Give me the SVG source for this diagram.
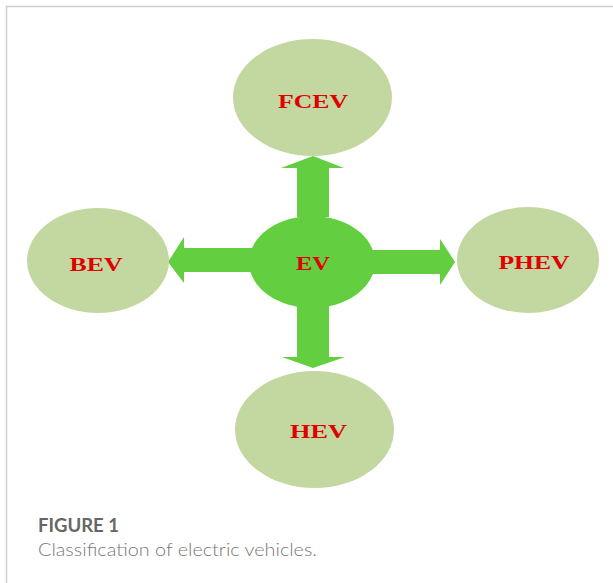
<svg xmlns="http://www.w3.org/2000/svg" width="613" height="583" viewBox="0 0 613 583">
<style>
.sub{fill:#c2d8a0}
.hub{fill:#63cf40}
.arr{fill:#63cf40}
.lbl{font-family:"Liberation Serif","Times New Roman",serif;font-weight:bold;font-size:19px;fill:#e00000;text-anchor:middle}
.cap1{font-family:Lato,"Liberation Sans",sans-serif;font-weight:bold;font-size:18px;fill:#666}
.cap2{font-family:Lato,"Liberation Sans",sans-serif;font-weight:300;font-size:18px;fill:#777}
</style>
<rect x="0" y="0" width="613" height="583" fill="#fff"/>
<path d="M6.5 620 V6.5 H640" fill="none" stroke="#cfcfcf" stroke-width="1.5"/>
<g id="connectors">
<polygon class="arr" points="297,217 297,168 281,168 313,156 344,168 329,168 329,217"/>
<polygon class="arr" points="252,248 184,248 184,237 168,262 184,283 184,272 252,272"/>
<polygon class="arr" points="372,250 440,250 440,239 455,262 440,285 440,274 372,274"/>
<polygon class="arr" points="297,306 297,357 282,357 313,368 345,357 329,357 329,306"/>
</g>
<g id="node-fcev">
<ellipse class="sub" cx="312.5" cy="97.5" rx="79.5" ry="58.5"/>
<text class="lbl" x="313" y="108" textLength="70" lengthAdjust="spacingAndGlyphs">FCEV</text>
</g>
<g id="node-bev">
<ellipse class="sub" cx="98" cy="260.5" rx="71" ry="52.5"/>
<text class="lbl" x="96" y="271" textLength="53" lengthAdjust="spacingAndGlyphs">BEV</text>
</g>
<g id="node-phev">
<ellipse class="sub" cx="528" cy="260" rx="71" ry="53"/>
<text class="lbl" x="534" y="269" textLength="71" lengthAdjust="spacingAndGlyphs">PHEV</text>
</g>
<g id="node-hev">
<ellipse class="sub" cx="314.5" cy="429.5" rx="79.5" ry="58.5"/>
<text class="lbl" x="318.5" y="438" textLength="57" lengthAdjust="spacingAndGlyphs">HEV</text>
</g>
<g id="node-ev">
<ellipse class="hub" cx="312" cy="262" rx="63" ry="46"/>
<text class="lbl" x="313" y="270" textLength="34" lengthAdjust="spacingAndGlyphs">EV</text>
</g>
<text class="cap1" x="38" y="532" textLength="81" lengthAdjust="spacingAndGlyphs">FIGURE 1</text>
<text class="cap2" x="38" y="556" textLength="279" lengthAdjust="spacingAndGlyphs">Classification of electric vehicles.</text>
</svg>
